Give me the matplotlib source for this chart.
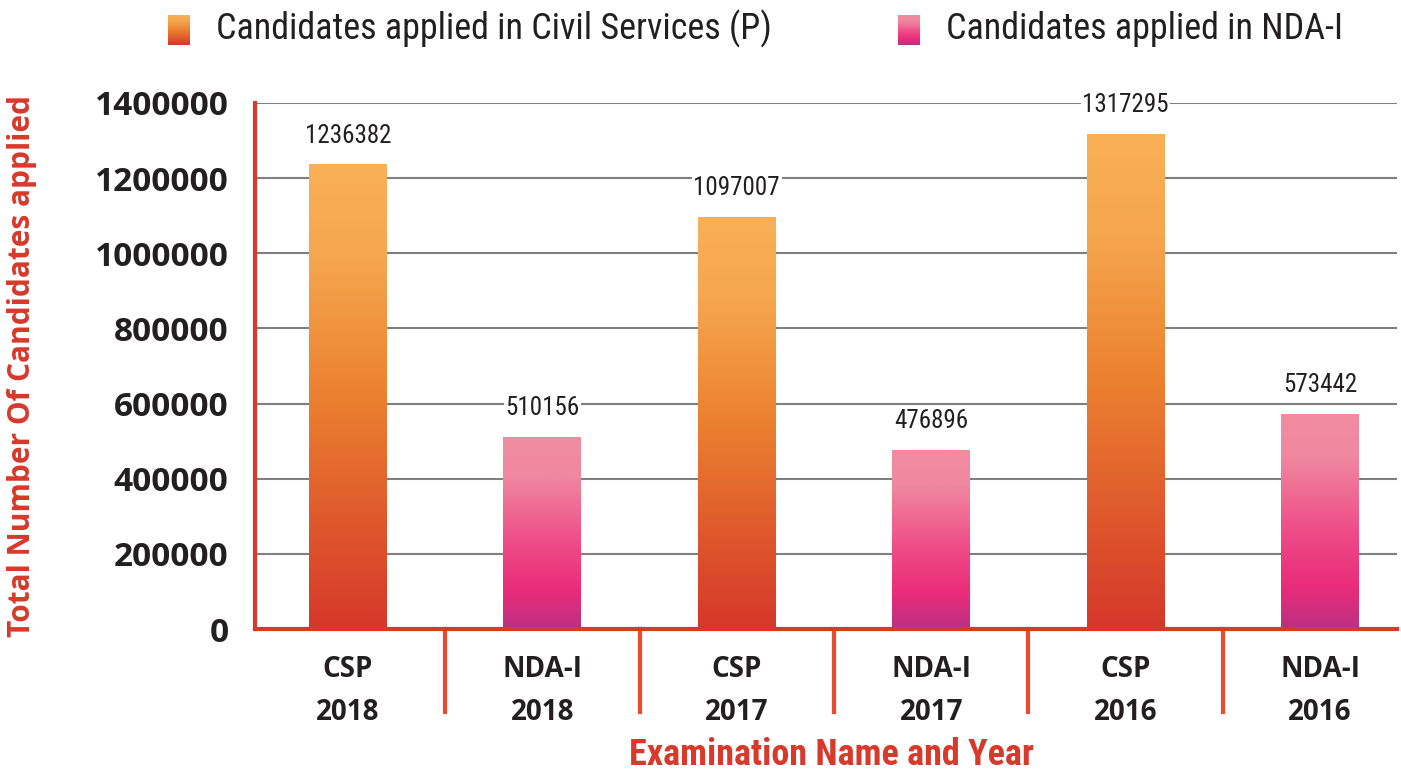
import numpy as np
import matplotlib
matplotlib.use("Agg")
import matplotlib.pyplot as plt
from matplotlib import font_manager as fm
from matplotlib.colors import LinearSegmentedColormap
import matplotlib.transforms as mtransforms

categories = ["CSP\n2018", "NDA-I\n2018", "CSP\n2017", "NDA-I\n2017", "CSP\n2016", "NDA-I\n2016"]
values = [1236382, 510156, 1097007, 476896, 1317295, 573442]
series = ["csp", "nda", "csp", "nda", "csp", "nda"]
legend_labels = ["Candidates applied in Civil Services (P)", "Candidates applied in NDA-I"]
yticks = [0, 200000, 400000, 600000, 800000, 1000000, 1200000, 1400000]


def pick(cands, **kw):
    for c in cands:
        try:
            fm.findfont(fm.FontProperties(family=c, **kw), fallback_to_default=False)
            return c
        except Exception:
            pass
    return "DejaVu Sans"

cond = pick(["Liberation Sans Narrow", "Roboto Condensed", "Open Sans Condensed", "DejaVu Sans"])
boldf = pick(["Open Sans", "Lato", "DejaVu Sans"])

red = "#D7392B"
cmap_csp = LinearSegmentedColormap.from_list("csp", [(0, "#D5372A"), (0.5, "#EB8030"), (0.8, "#F6A64F"), (1, "#F9B057")])
cmap_nda = LinearSegmentedColormap.from_list("nda", [(0, "#BC3082"), (0.2, "#EA2C7A"), (0.45, "#EE4C87"), (0.8, "#F088A0"), (1, "#F08CA0")])
cmaps = {"csp": cmap_csp, "nda": cmap_nda}

fig = plt.figure(figsize=(14.01, 7.70), dpi=100)
ax = fig.add_axes([255/1401, 1-629/770, (1397-255)/1401, (629-103)/770])

x = np.arange(len(categories))
width = 0.40
grad = np.linspace(0, 1, 256).reshape(-1, 1)
bars = ax.bar(x, values, width=width, color="none", zorder=3)
for b, s in zip(bars, series):
    x0, y0 = b.get_x(), b.get_y()
    w, h = b.get_width(), b.get_height()
    im = ax.imshow(grad, cmap=cmaps[s], aspect="auto", origin="lower",
                   extent=[x0, x0 + w, y0, y0 + h], zorder=3)
    im.set_clip_path(b)

for xi, v in zip(x, values):
    ax.text(xi, v + 45000, f"{v}", ha="center", va="bottom", fontsize=18,
            family=cond, color="#231F20", zorder=4,
            bbox=dict(facecolor="white", edgecolor="none", pad=1))

ax.set_xlim(-0.478, 5.396)
ax.set_ylim(0, 1400000)
ax.set_yticks(yticks)
ax.set_yticklabels([str(t) for t in yticks], fontsize=24, fontweight="bold", family=boldf, color="#231F20")
ax.set_xticks(x)
ax.set_xticklabels(categories, fontsize=20, fontweight="bold", family=boldf, color="#231F20", linespacing=1.6)
ax.tick_params(axis="both", length=0)
ax.tick_params(axis="y", pad=19)
ax.tick_params(axis="x", pad=19)
ax.yaxis.grid(True, color="#7F7F7F", linewidth=1.5, zorder=0)
ax.set_axisbelow(True)
for sp in ["top", "right"]:
    ax.spines[sp].set_visible(False)
for sp in ["left", "bottom"]:
    ax.spines[sp].set_color(red)
    ax.spines[sp].set_linewidth(3)
    ax.spines[sp].set_zorder(5)

trans = mtransforms.blended_transform_factory(ax.transData, ax.transAxes)
for xs in x[:-1] + 0.5:
    ax.plot([xs, xs], [0, -0.157], color="#E84B2E", lw=3, transform=trans, clip_on=False)

ax.set_ylabel("Total Number Of Candidates applied", fontsize=21.5, fontweight="bold",
              family=boldf, color=red)
ax.yaxis.set_label_coords(-0.191, 0.5)
ax.set_xlabel("Examination Name and Year", fontsize=26, fontweight="bold", family=cond, color=red)
ax.xaxis.set_label_coords(0.505, -0.205)

# legend
for (lx, cm, lab) in [(168, cmap_csp, legend_labels[0]), (898, cmap_nda, legend_labels[1])]:
    lax = fig.add_axes([lx/1401, 1-45/770, 22/1401, 30/770])
    lax.imshow(grad, cmap=cm, aspect="auto", origin="lower")
    lax.axis("off")
    fig.text((lx + 48)/1401, 1-29/770, lab, fontsize=26, family=cond, color="#231F20", va="center", ha="left")

fig.savefig("out.png", dpi=100, facecolor="white")
